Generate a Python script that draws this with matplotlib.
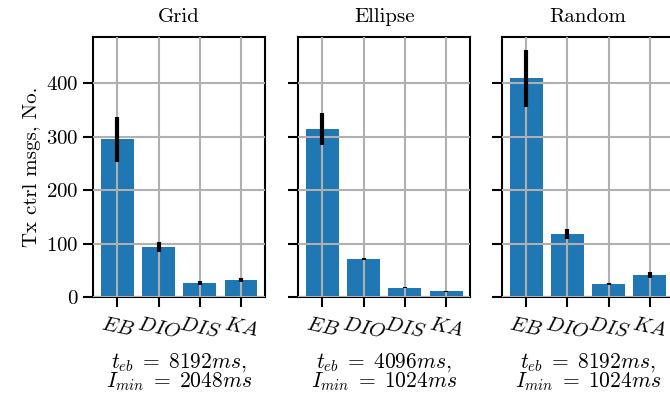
import matplotlib
matplotlib.use('Agg')
import matplotlib.pyplot as plt
import numpy as np

plt.rcParams['font.family'] = 'serif'
plt.rcParams['font.serif'] = ['cmr10', 'DejaVu Serif']
plt.rcParams['mathtext.fontset'] = 'cm'
plt.rcParams['axes.formatter.use_mathtext'] = True
plt.rcParams['axes.unicode_minus'] = False

protocols = ['$EB$', '$DIO$', '$DIS$', '$KA$']
scenarios = ['Grid', 'Ellipse', 'Random']
params = ['$t_{eb} \\;=\\; 8192ms$,\n$I_{min} \\;=\\; 2048ms$',
          '$t_{eb} \\;=\\; 4096ms$,\n$I_{min} \\;=\\; 1024ms$',
          '$t_{eb} \\;=\\; 8192ms$,\n$I_{min} \\;=\\; 1024ms$']

grid_mean = [295, 93, 26, 32]
grid_err = [42, 9, 3, 4]
ellipse_mean = [314, 71, 17, 11]
ellipse_err = [30, 2, 1, 1]
random_mean = [409, 118, 24, 41]
random_err = [54, 9, 2, 6]

means = [grid_mean, ellipse_mean, random_mean]
errs = [grid_err, ellipse_err, random_err]

fig = plt.figure(figsize=(6.7, 4.04), dpi=100)
lefts = [0.139, 0.445, 0.749]
axes = []
for i in range(3):
    if i == 0:
        ax = fig.add_axes((lefts[i], 0.265, 0.257, 0.643))
    else:
        ax = fig.add_axes((lefts[i], 0.265, 0.257, 0.643), sharey=axes[0])
    axes.append(ax)
    x = np.arange(len(protocols))
    ax.bar(x, means[i], 0.8, color='#1f77b4', zorder=1)
    ax.errorbar(x, means[i], yerr=errs[i], fmt='none', ecolor='black',
                elinewidth=3, capsize=0, zorder=3)
    ax.set_axisbelow(False)
    ax.grid(True, color='#b0b0b0', linewidth=1.5, zorder=2)
    ax.set_xticks(x)
    ax.set_xticklabels(protocols, rotation=-12, fontsize=16)
    ax.set_title(scenarios[i], fontsize=15, pad=11)
    ax.set_xlabel(params[i], fontsize=15.5, linespacing=0.8, labelpad=7)
    for s in ax.spines.values():
        s.set_linewidth(1.5)
    ax.tick_params(width=1.5, length=7, labelsize=15)
    ax.tick_params(axis='x', pad=6)
    if i > 0:
        plt.setp(ax.get_yticklabels(), visible=False)

axes[0].set_ylabel('Tx ctrl msgs, No.', fontsize=15)
axes[0].set_yticks([0, 100, 200, 300, 400])

fig.savefig('out.png', dpi=100)
